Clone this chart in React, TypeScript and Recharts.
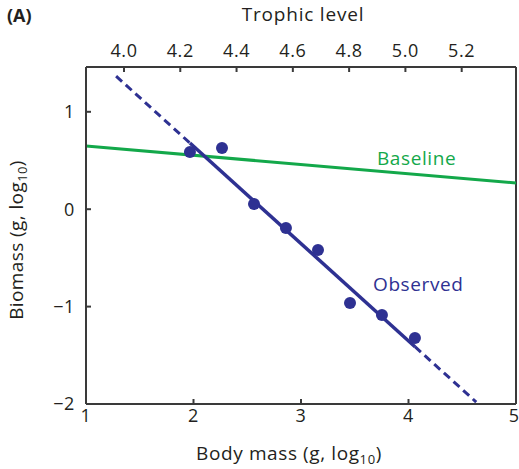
import { ComposedChart, Line, Scatter, XAxis, YAxis, ReferenceLine } from "recharts";

// log10 body mass vs log10 biomass, observed species
const bodyMass = [1.967, 2.265, 2.563, 2.86, 3.158, 3.456, 3.753, 4.06];
const biomass = [0.587, 0.628, 0.053, -0.193, -0.419, -0.963, -1.086, -1.322];

// fitted line: solid over the data range, dashed extrapolation either side
const fitSolid = [
  { x: 1.967, y: 0.679 },
  { x: 4.06, y: -1.412 },
];
const fitDashLow = [
  { x: 1.28, y: 1.366 },
  { x: 1.967, y: 0.679 },
];
const fitDashHigh = [
  { x: 4.06, y: -1.412 },
  { x: 4.63, y: -1.98 },
];
const baseline = [
  { x: 1, y: 0.649 },
  { x: 5, y: 0.269 },
];

const massTicks = [1, 2, 3, 4, 5];
const biomassTicks = [-2, -1, 0, 1];
const trophicTicks = [4.0, 4.2, 4.4, 4.6, 4.8, 5.0, 5.2];
// trophic level at the left and right edges of the mass range
const trophicRange = [3.865, 5.393];

const points = bodyMass.map((x, i) => ({ x, y: biomass[i] }));
// no y values: only ties the top axis to some data so it gets drawn
const trophicAnchor = trophicRange.map((t) => ({ t }));

const BLUE = "#2e3192";
const GREEN = "#13a84a";
const INK = "#231f20";
const AXIS = "#3a3a3a";
const FONT = "'Open Sans', sans-serif";
const tickStyle = { fill: INK, fontSize: 18, letterSpacing: 0.6 };

const fmt = (v: number) => (v < 0 ? "\u2212" + Math.abs(v) : String(v));

export default function App() {
  return (
    <div style={{ position: "fixed", left: 0, top: 0, width: 519, height: 469, background: "#fff" }}>
      <ComposedChart
        width={519}
        height={469}
        margin={{ top: 37, right: 3, bottom: 25, left: 26 }}
        style={{ fontFamily: FONT }}
      >
        <XAxis
          xAxisId="bm"
          dataKey="x"
          type="number"
          domain={[1, 5]}
          ticks={massTicks}
          height={40}
          stroke={AXIS}
          strokeWidth={2}
          tickSize={-5}
          tickMargin={10}
          tick={tickStyle}
          allowDataOverflow
        />
        <XAxis
          xAxisId="tl"
          dataKey="t"
          orientation="top"
          type="number"
          domain={trophicRange}
          ticks={trophicTicks}
          tickFormatter={(v: number) => v.toFixed(1)}
          height={30}
          stroke={AXIS}
          strokeWidth={2}
          tickSize={-5}
          tickMargin={15}
          tick={tickStyle}
          allowDataOverflow
        />
        <YAxis
          type="number"
          domain={[-2, 1.46]}
          ticks={biomassTicks}
          tickFormatter={fmt}
          width={60}
          stroke={AXIS}
          strokeWidth={2}
          tickSize={-5}
          tickMargin={16}
          tick={tickStyle}
          allowDataOverflow
        />
        <ReferenceLine xAxisId="bm" x={5} stroke={AXIS} strokeWidth={2} />

        <Line
          xAxisId="tl"
          data={trophicAnchor}
          dataKey="none"
          stroke="none"
          dot={false}
          isAnimationActive={false}
        />
        <Line
          xAxisId="bm"
          data={baseline}
          dataKey="y"
          stroke={GREEN}
          strokeWidth={3}
          dot={false}
          isAnimationActive={false}
        />
        <Line
          xAxisId="bm"
          data={fitDashLow}
          dataKey="y"
          stroke={BLUE}
          strokeWidth={3}
          strokeDasharray="8 5"
          dot={false}
          isAnimationActive={false}
        />
        <Line
          xAxisId="bm"
          data={fitDashHigh}
          dataKey="y"
          stroke={BLUE}
          strokeWidth={3}
          strokeDasharray="8 5"
          dot={false}
          isAnimationActive={false}
        />
        <Line
          xAxisId="bm"
          data={fitSolid}
          dataKey="y"
          stroke={BLUE}
          strokeWidth={3.5}
          dot={false}
          isAnimationActive={false}
        />
        <Scatter
          xAxisId="bm"
          data={points}
          dataKey="y"
          fill={BLUE}
          shape={(p: any) => <circle cx={p.cx} cy={p.cy} r={6} fill={BLUE} />}
          isAnimationActive={false}
        />
      </ComposedChart>

      <svg
        width={519}
        height={469}
        style={{ position: "absolute", left: 0, top: 0, pointerEvents: "none", fontFamily: FONT }}
      >
        <text x={7} y={22} fontSize={18} fontWeight={700} fill={INK}>
          (A)
        </text>
        <text x={303} y={21} fontSize={19} letterSpacing={0.8} fill={INK} textAnchor="middle">
          Trophic level
        </text>
        <text x={289} y={460} fontSize={19} letterSpacing={0.6} fill={INK} textAnchor="middle">
          Body mass (g, log<tspan fontSize={13} dy={4}>10</tspan>
          <tspan dy={-4}>)</tspan>
        </text>
        <text
          x={0}
          y={0}
          fontSize={19}
          letterSpacing={0.4}
          fill={INK}
          textAnchor="middle"
          transform="translate(23 240) rotate(-90)"
        >
          Biomass (g, log<tspan fontSize={13} dy={4}>10</tspan>
          <tspan dy={-4}>)</tspan>
        </text>
        <text x={377} y={165} fontSize={19} letterSpacing={0.6} fill={GREEN}>
          Baseline
        </text>
        <text x={373} y={291} fontSize={19} letterSpacing={0.6} fill={BLUE}>
          Observed
        </text>
      </svg>
    </div>
  );
}
